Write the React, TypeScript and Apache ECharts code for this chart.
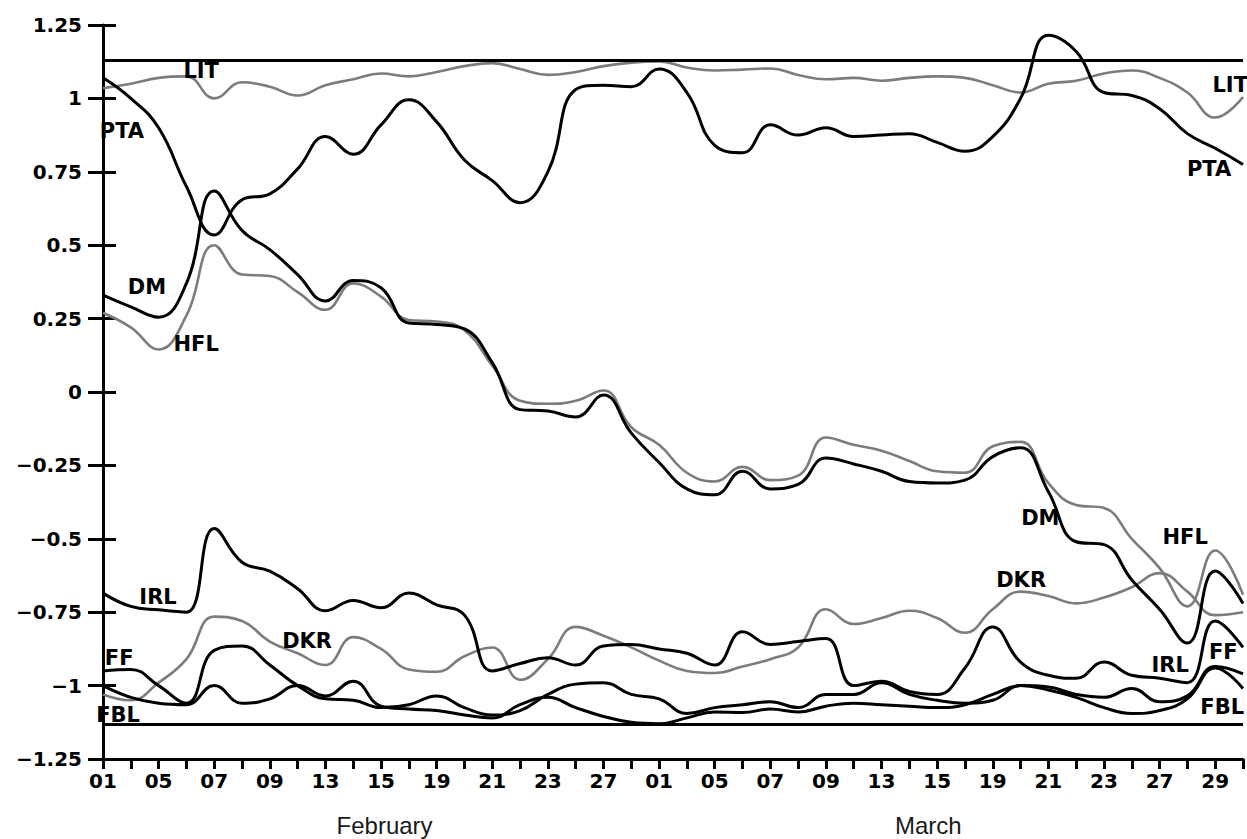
import React, { useEffect, useRef } from "react";
import * as echarts from "echarts";

// ---- data ----
const xTickLabels = ["01","05","07","09","13","15","19","21","23","27","01","05","07","09","13","15","19","21","23","27","29"];
const monthNames = ["February", "March"];
const refLineValues = [1.125, -1.125];

const LIT = [1.035,1.05,1.07,1.075,1.0,1.055,1.04,1.01,1.045,1.065,1.085,1.075,1.09,1.11,1.12,1.10,1.08,1.09,1.11,1.122,1.126,1.105,1.095,1.098,1.102,1.08,1.065,1.07,1.06,1.07,1.075,1.07,1.045,1.02,1.05,1.06,1.085,1.095,1.07,1.02,0.935,1.005];
const PTA = [1.07,1.0,0.90,0.70,0.535,0.655,0.675,0.76,0.87,0.81,0.91,0.995,0.92,0.79,0.72,0.645,0.75,1.03,1.045,1.04,1.10,1.02,0.84,0.815,0.91,0.875,0.90,0.87,0.875,0.88,0.85,0.82,0.87,1.0,1.215,1.16,1.02,1.01,0.965,0.88,0.83,0.775];
const DM = [0.33,0.29,0.255,0.37,0.685,0.55,0.485,0.40,0.31,0.38,0.355,0.235,0.23,0.215,0.10,-0.06,-0.065,-0.085,-0.01,-0.14,-0.24,-0.33,-0.35,-0.27,-0.33,-0.315,-0.225,-0.245,-0.27,-0.305,-0.31,-0.30,-0.22,-0.19,-0.34,-0.51,-0.52,-0.64,-0.74,-0.855,-0.61,-0.72];
const HFL = [0.27,0.22,0.145,0.26,0.50,0.40,0.395,0.34,0.28,0.37,0.325,0.245,0.24,0.21,0.09,-0.03,-0.04,-0.03,0.005,-0.12,-0.18,-0.275,-0.305,-0.255,-0.30,-0.285,-0.155,-0.18,-0.20,-0.235,-0.27,-0.275,-0.185,-0.17,-0.31,-0.385,-0.395,-0.50,-0.60,-0.73,-0.54,-0.69];
const IRL = [-0.685,-0.73,-0.742,-0.75,-0.465,-0.58,-0.61,-0.67,-0.745,-0.71,-0.735,-0.685,-0.725,-0.76,-0.95,-0.925,-0.905,-0.93,-0.865,-0.86,-0.875,-0.89,-0.93,-0.817,-0.86,-0.85,-0.84,-1.0,-0.985,-1.02,-1.03,-0.94,-0.80,-0.92,-0.965,-0.975,-0.92,-0.965,-0.975,-0.99,-0.78,-0.87];
const DKR = [-1.03,-1.05,-0.99,-0.91,-0.765,-0.78,-0.85,-0.89,-0.93,-0.835,-0.875,-0.945,-0.953,-0.90,-0.87,-0.98,-0.91,-0.80,-0.83,-0.87,-0.915,-0.95,-0.957,-0.935,-0.91,-0.87,-0.74,-0.79,-0.77,-0.745,-0.77,-0.82,-0.74,-0.68,-0.695,-0.72,-0.70,-0.665,-0.617,-0.68,-0.76,-0.75];
const FF = [-0.95,-0.945,-1.0,-1.06,-0.88,-0.865,-0.93,-1.0,-1.045,-1.05,-1.075,-1.065,-1.035,-1.075,-1.1,-1.085,-1.03,-0.995,-0.99,-1.03,-1.045,-1.095,-1.075,-1.065,-1.055,-1.075,-1.03,-1.03,-0.99,-1.03,-1.05,-1.06,-1.05,-1.0,-1.005,-1.03,-1.04,-1.01,-1.055,-1.035,-0.935,-0.96];
const FBL = [-1.0,-1.04,-1.06,-1.065,-1.0,-1.06,-1.045,-1.0,-1.035,-0.985,-1.07,-1.08,-1.085,-1.1,-1.11,-1.065,-1.04,-1.075,-1.105,-1.125,-1.13,-1.11,-1.09,-1.092,-1.08,-1.09,-1.07,-1.06,-1.065,-1.07,-1.075,-1.065,-1.03,-1.0,-1.015,-1.04,-1.075,-1.095,-1.085,-1.045,-0.94,-1.01];

// label anchors (x index, value) for start and end name tags
const LIT_TAGS = [[3.53, 1.093], [40.54, 1.046]];
const PTA_TAGS = [[0.68, 0.889], [39.78, 0.76]];
const DM_TAGS = [[1.58, 0.358], [33.71, -0.429]];
const HFL_TAGS = [[3.35, 0.163], [38.92, -0.494]];
const IRL_TAGS = [[1.98, -0.698], [38.38, -0.93]];
const DKR_TAGS = [[7.34, -0.848], [33.02, -0.64]];
const FF_TAGS = [[0.58, -0.906], [40.29, -0.886]];
const FBL_TAGS = [[0.54, -1.1], [40.25, -1.073]];

const W = 1247;
const H = 839;
const GRID = { left: 103, right: 4, top: 25, bottom: 80 };

const BOLD_FONT = "DejaVu Sans";

function makeSeries(name: string, values: number[], tags: number[][], gray: boolean) {
  return {
    name,
    type: "line",
    data: values.map((v, i) => [i, v]),
    smooth: 0.45,
    showSymbol: false,
    symbol: "none",
    lineStyle: {
      color: gray ? "#7c7c7c" : "#000000",
      width: gray ? 2.6 : 3,
    },
    z: gray ? 2 : 3,
    markPoint: {
      symbol: "circle",
      symbolSize: 0,
      silent: true,
      label: {
        show: true,
        position: "inside",
        formatter: name,
        color: "#000",
        fontFamily: BOLD_FONT,
        fontWeight: "bold",
        fontSize: 21,
      },
      data: tags.map((t) => ({ coord: t })),
    },
  };
}

export default function App() {
  const ref = useRef<HTMLDivElement>(null);
  useEffect(() => {
    if (!ref.current) return;
    const chart = echarts.init(ref.current, undefined, { renderer: "svg" });
    const fmtY = (v: number) => (v < 0 ? "\u2212" + String(-v) : String(v));
    const plotW = W - GRID.left - GRID.right;
    const option: any = {
      animation: false,
      backgroundColor: "#ffffff",
      textStyle: { fontFamily: BOLD_FONT },
      grid: { ...GRID, containLabel: false },
      xAxis: {
        type: "value",
        min: 0,
        max: 41,
        interval: 1,
        axisLine: { show: true, onZero: false, lineStyle: { color: "#000", width: 3 } },
        axisTick: { show: true, length: 10, lineStyle: { color: "#000", width: 3 } },
        axisLabel: {
          show: true,
          margin: 12,
          color: "#000",
          fontFamily: BOLD_FONT,
          fontWeight: "bold",
          fontSize: 20,
          formatter: (v: number) => (v % 2 === 0 ? xTickLabels[v / 2] ?? "" : ""),
        },
        splitLine: { show: false },
      },
      yAxis: [
        {
          type: "value",
          min: -1.25,
          max: 1.25,
          interval: 0.25,
          position: "left",
          axisLine: { show: true, onZero: false, lineStyle: { color: "#000", width: 3 } },
          axisTick: { show: true, length: 15, lineStyle: { color: "#000", width: 3 } },
          axisLabel: {
            margin: 21,
            color: "#000",
            fontFamily: BOLD_FONT,
            fontWeight: "bold",
            fontSize: 20,
            formatter: fmtY,
          },
          splitLine: { show: false },
        },
        {
          type: "value",
          min: -1.25,
          max: 1.25,
          interval: 0.25,
          position: "left",
          axisLine: { show: false, onZero: false },
          axisTick: { show: true, inside: true, length: 13, lineStyle: { color: "#000", width: 3 } },
          axisLabel: { show: false },
          splitLine: { show: false },
        },
      ],
      graphic: monthNames.map((m, k) => ({
        type: "text",
        left: k === 0 ? GRID.left + plotW * 0.247 - 48 : GRID.left + plotW * 0.728 - 38,
        top: 813,
        style: {
          text: m,
          fontSize: 24,
          fontFamily: "Liberation Sans",
          fill: "#1a1a1a",
        },
      })),
      series: [
        {
          name: "ref",
          type: "line",
          data: [],
          silent: true,
          markLine: {
            symbol: "none",
            silent: true,
            label: { show: false },
            lineStyle: { color: "#000", width: 3, type: "solid" },
            data: refLineValues.map((v) => ({ yAxis: v })),
          },
        },
        makeSeries("LIT", LIT, LIT_TAGS, true),
        makeSeries("HFL", HFL, HFL_TAGS, true),
        makeSeries("DKR", DKR, DKR_TAGS, true),
        makeSeries("PTA", PTA, PTA_TAGS, false),
        makeSeries("DM", DM, DM_TAGS, false),
        makeSeries("IRL", IRL, IRL_TAGS, false),
        makeSeries("FF", FF, FF_TAGS, false),
        makeSeries("FBL", FBL, FBL_TAGS, false),
      ],
    };
    chart.setOption(option);
    return () => chart.dispose();
  }, []);
  return (
    <div
      ref={ref}
      style={{ position: "absolute", left: 0, top: 0, width: W, height: H, background: "#fff" }}
    />
  );
}
